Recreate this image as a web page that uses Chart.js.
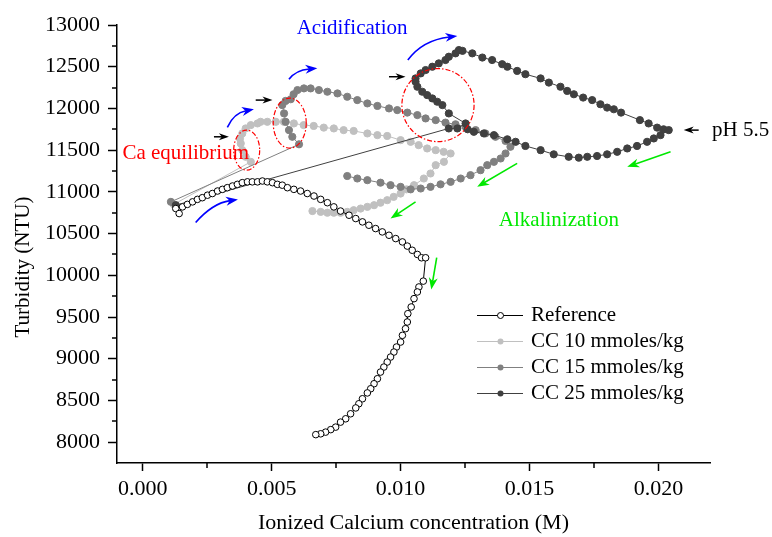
<!DOCTYPE html>
<html><head><meta charset="utf-8">
<script src="https://cdn.jsdelivr.net/npm/chart.js@4/dist/chart.umd.min.js"></script>
<style>html,body{margin:0;padding:0;background:#fff}#wrap{width:772px;height:537px}</style>
</head><body><div id="wrap"><canvas id="c" width="772" height="537"></canvas></div>
<script>
// ---------- data ----------
const seriesNames = ['Reference', 'CC 10 mmoles/kg', 'CC 15 mmoles/kg', 'CC 25 mmoles/kg'];

const refX = [0.00128,0.00141,0.00154,0.00173,0.00193,0.00212,0.00231,0.00251,0.0027,0.0029,0.00309,0.00328,0.00348,0.00367,0.00386,0.00406,0.00425,0.00445,0.00464,0.00483,0.00503,0.00522,0.00541,0.00561,0.00586,0.00612,0.00638,0.00664,0.0069,0.00716,0.00741,0.00767,0.008,0.00826,0.00852,0.00877,0.00903,0.00929,0.00955,0.00981,0.01007,0.01026,0.01045,0.01065,0.01081,0.01097,0.01088,0.01071,0.01065,0.01052,0.01041,0.01028,0.01026,0.01019,0.01007,0.01,0.00984,0.00974,0.00961,0.00948,0.00935,0.00922,0.0091,0.00897,0.00884,0.00871,0.00852,0.00838,0.00826,0.00806,0.00787,0.00767,0.00748,0.00729,0.00709,0.0069,0.00671];
const refY = [10800,10740,10820,10850,10880,10910,10930,10960,10980,11010,11030,11050,11070,11090,11110,11120,11120,11120,11130,11120,11110,11090,11080,11050,11030,11010,10980,10950,10910,10870,10820,10770,10720,10680,10640,10600,10560,10520,10480,10440,10400,10350,10300,10250,10210,10210,9930,9860,9800,9720,9620,9540,9440,9360,9280,9200,9140,9080,9020,8960,8900,8840,8760,8700,8640,8590,8520,8460,8410,8340,8280,8240,8180,8150,8120,8100,8090];

const cc10X = [0.0012,0.00419,0.00399,0.00386,0.0038,0.00377,0.00386,0.00399,0.00419,0.00445,0.00457,0.00483,0.00516,0.00547,0.00586,0.00624,0.00663,0.00702,0.00741,0.00779,0.00818,0.00871,0.0091,0.00948,0.01,0.01039,0.0107,0.01103,0.01136,0.01167,0.01194,0.01168,0.01136,0.01116,0.0109,0.01052,0.01023,0.01,0.00973,0.00948,0.00922,0.00897,0.00871,0.00845,0.00818,0.00793,0.00767,0.00741,0.00716,0.0069,0.00658];
const cc10Y = [10850,11360,11420,11500,11580,11640,11700,11760,11800,11820,11840,11840,11840,11840,11820,11800,11790,11770,11760,11740,11730,11700,11680,11670,11620,11600,11560,11520,11500,11480,11460,11360,11320,11220,11160,11080,11030,10980,10940,10900,10870,10840,10820,10800,10780,10760,10750,10750,10750,10760,10770];

const cc15X = [0.00109,0.00606,0.0058,0.00567,0.00554,0.00548,0.00541,0.00554,0.00574,0.00585,0.006,0.00625,0.00651,0.00683,0.00716,0.00755,0.00793,0.00832,0.00871,0.0091,0.00955,0.00987,0.01026,0.01065,0.01097,0.01136,0.01174,0.01213,0.01252,0.01291,0.01329,0.01368,0.01407,0.01426,0.01407,0.01388,0.01362,0.01336,0.0131,0.01271,0.01233,0.01194,0.01155,0.01116,0.01078,0.01039,0.01,0.00961,0.00922,0.00871,0.00832,0.00793];
const cc15Y = [10880,11570,11660,11740,11840,11940,12040,12090,12110,12170,12220,12240,12240,12220,12200,12180,12140,12100,12060,12030,12000,11980,11950,11920,11880,11860,11830,11810,11780,11740,11700,11660,11610,11540,11460,11400,11360,11320,11260,11200,11160,11120,11090,11060,11040,11030,11060,11080,11110,11140,11160,11190];

const cc25X = [0.00128,0.01187,0.0122,0.01252,0.01187,0.01162,0.01142,0.01123,0.01103,0.01084,0.01065,0.01058,0.01058,0.01078,0.01097,0.01123,0.01148,0.01174,0.01187,0.01213,0.01226,0.0124,0.01278,0.01317,0.01355,0.01394,0.01414,0.01452,0.01484,0.01543,0.01575,0.0162,0.01646,0.01672,0.01708,0.01743,0.01775,0.01801,0.01827,0.01855,0.01928,0.01962,0.01995,0.0202,0.0204,0.02008,0.01982,0.01956,0.01917,0.01879,0.0184,0.01801,0.01762,0.01724,0.01691,0.01652,0.01594,0.01543,0.01484,0.01446,0.01414,0.01362,0.01323,0.01284,0.0126];
const cc25Y = [10840,11760,11760,11820,11940,12040,12080,12120,12160,12200,12260,12320,12360,12420,12460,12500,12540,12580,12620,12660,12700,12690,12660,12610,12580,12530,12500,12450,12410,12360,12310,12260,12210,12170,12130,12100,12050,12010,11990,11950,11860,11820,11770,11750,11740,11680,11640,11600,11550,11520,11480,11450,11430,11420,11410,11420,11450,11500,11550,11600,11630,11680,11700,11720,11750];

const xTicks = [0, 0.005, 0.010, 0.015, 0.020];
const xMinorTicks = [0.0025, 0.0075, 0.0125, 0.0175];
const yTicks = [8000, 8500, 9000, 9500, 10000, 10500, 11000, 11500, 12000, 12500, 13000];
const yMinorTicks = [8250, 8750, 9250, 9750, 10250, 10750, 11250, 11750, 12250, 12750];

// annotation anchors in data units
const annotTexts = [
  {t:'Acidification', x:0.00597, y:12961, c:'#0000ff'},
  {t:'Ca equilibrium', x:-0.00079, y:11461, c:'#ff0000'},
  {t:'Alkalinization', x:0.01381, y:10660, c:'#00e800'},
  {t:'pH 5.5', x:0.02208, y:11740, c:'#000000'}
];
const blackArrows = [
  [0.00276,11660,0.00334,11660],[0.00438,12100,0.00503,12100],
  [0.00955,12380,0.01019,12380],[0.02156,11740,0.02098,11740]
];
const blueArcs = [
  [0.00205,10633,0.00271,10864,0.00369,10909],
  [0.00328,11773,0.00353,11944,0.00431,11989],
  [0.00567,12349,0.00593,12460,0.00677,12481],
  [0.01028,12580,0.01085,12820,0.0122,12868]
];
const greenArrows = [
  [0.02047,11480,0.01879,11300],[0.01452,11341,0.01297,11060],
  [0.01058,10880,0.00961,10681],[0.0114,10213,0.01119,9829]
];
const ellipses = [
  [0.00403,11500,0.000504,240],[0.0057,11824,0.00064,300],[0.01145,12040,0.0014,438]
];

// ---------- chart ----------
const FONT = "'Liberation Serif', 'Times New Roman', Times, serif";
const toPts = (xs, ys) => xs.map((v, i) => ({x: v, y: ys[i]}));
const colors = ['#000000', '#c0c0c0', '#808080', '#404040'];

function head(ctx, tx, ty, ang, len, hw, color, stealth) {
  ctx.save();
  ctx.translate(tx, ty); ctx.rotate(ang);
  ctx.fillStyle = color;
  ctx.beginPath();
  ctx.moveTo(0, 0);
  ctx.lineTo(-len, -hw);
  if (stealth) ctx.lineTo(-len * 0.7, 0);
  ctx.lineTo(-len, hw);
  ctx.closePath();
  ctx.fill();
  ctx.restore();
}

const annot = {
  id: 'annot',
  afterDraw(chart) {
    const {ctx, scales: {x, y}} = chart;
    const px = v => x.getPixelForValue(v), py = v => y.getPixelForValue(v);
    ctx.save();
    // minor ticks
    ctx.strokeStyle = '#000'; ctx.lineWidth = 1.5;
    const b = chart.chartArea.bottom, l = chart.chartArea.left;
    xMinorTicks.forEach(v => { const p = Math.round(px(v)); ctx.beginPath(); ctx.moveTo(p, b); ctx.lineTo(p, b + 5); ctx.stroke(); });
    yMinorTicks.forEach(v => { const p = Math.round(py(v)); ctx.beginPath(); ctx.moveTo(l, p); ctx.lineTo(l - 5, p); ctx.stroke(); });

    // ellipses
    ctx.strokeStyle = '#ff0000'; ctx.lineWidth = 1.2; ctx.setLineDash([5, 2, 1.5, 2]);
    ellipses.forEach(e => {
      const cx = px(e[0]), cy = py(e[1]);
      const rx = Math.abs(px(e[0] + e[2]) - cx), ry = Math.abs(py(e[1] + e[3]) - cy);
      ctx.beginPath(); ctx.ellipse(cx, cy, rx, ry, 0, 0, Math.PI * 2); ctx.stroke();
    });
    ctx.setLineDash([]);

    // black arrows
    ctx.strokeStyle = '#000'; ctx.lineWidth = 1.5;
    blackArrows.forEach(a => {
      const x1 = px(a[0]), y1 = py(a[1]), x2 = px(a[2]), y2 = py(a[3]);
      const ang = Math.atan2(y2 - y1, x2 - x1);
      ctx.beginPath(); ctx.moveTo(x1, y1); ctx.lineTo(x2 - 6 * Math.cos(ang), y2 - 6 * Math.sin(ang)); ctx.stroke();
      head(ctx, x2, y2, ang, 10, 3.5, '#000', true);
    });

    // blue arcs
    ctx.strokeStyle = '#0000ff'; ctx.lineWidth = 1.6;
    blueArcs.forEach(a => {
      const x0 = px(a[0]), y0 = py(a[1]), cx = px(a[2]), cy = py(a[3]), x2 = px(a[4]), y2 = py(a[5]);
      const ang = Math.atan2(y2 - cy, x2 - cx);
      ctx.beginPath(); ctx.moveTo(x0, y0); ctx.quadraticCurveTo(cx, cy, x2 - 8 * Math.cos(ang), y2 - 8 * Math.sin(ang)); ctx.stroke();
      head(ctx, x2, y2, ang, 12, 4.5, '#0000ff', true);
    });

    // green arrows
    ctx.strokeStyle = '#00e800'; ctx.lineWidth = 1.6;
    greenArrows.forEach(a => {
      const x1 = px(a[0]), y1 = py(a[1]), x2 = px(a[2]), y2 = py(a[3]);
      const ang = Math.atan2(y2 - y1, x2 - x1);
      ctx.beginPath(); ctx.moveTo(x1, y1); ctx.lineTo(x2 - 8 * Math.cos(ang), y2 - 8 * Math.sin(ang)); ctx.stroke();
      head(ctx, x2, y2, ang, 12, 4.5, '#00e800', true);
    });

    // texts
    ctx.font = '21px ' + FONT; ctx.textBaseline = 'middle'; ctx.textAlign = 'left';
    annotTexts.forEach(t => { ctx.fillStyle = t.c; ctx.fillText(t.t, px(t.x), py(t.y)); });

    // y axis title
    ctx.save();
    ctx.translate(23, 267); ctx.rotate(-Math.PI / 2);
    ctx.font = '21px ' + FONT; ctx.fillStyle = '#000'; ctx.textAlign = 'center';
    ctx.fillText('Turbidity (NTU)', 0, 0);
    ctx.restore();

    // legend
    const lx0 = 477, lx1 = 523, lm = 500.5, tx = 531, ly0 = 315.5, step = 26;
    chart.data.datasets.forEach((ds, i) => {
      const yy = ly0 + i * step;
      ctx.strokeStyle = ds.borderColor; ctx.lineWidth = 1;
      ctx.beginPath(); ctx.moveTo(lx0, yy); ctx.lineTo(lx1, yy); ctx.stroke();
      ctx.beginPath(); ctx.arc(lm, yy, 3, 0, Math.PI * 2);
      ctx.fillStyle = ds.pointBackgroundColor; ctx.fill();
      if (i === 0) { ctx.strokeStyle = '#000'; ctx.stroke(); }
      ctx.fillStyle = '#000'; ctx.font = '21px ' + FONT;
      ctx.fillText(ds.label, tx, yy);
    });
    ctx.restore();
  }
};

const mk = (i, pts, fill, border, r, ord) => ({
  label: seriesNames[i], data: pts, showLine: true,
  borderColor: colors[i], borderWidth: 1,
  pointBackgroundColor: fill, pointBorderColor: border, pointBorderWidth: 1,
  pointRadius: r, order: ord
});

new Chart(document.getElementById('c'), {
  type: 'scatter',
  data: {datasets: [
    mk(0, toPts(refX, refY), '#ffffff', '#000000', 3.3, 0),
    mk(1, toPts(cc10X, cc10Y), colors[1], colors[1], 3.6, 3),
    mk(2, toPts(cc15X, cc15Y), colors[2], colors[2], 3.6, 2),
    mk(3, toPts(cc25X, cc25Y), colors[3], colors[3], 3.6, 1)
  ]},
  options: {
    responsive: false, animation: false, devicePixelRatio: 1,
    layout: {padding: {left: 0, top: 25, right: 62, bottom: 0}},
    plugins: {legend: {display: false}, tooltip: {enabled: false}},
    scales: {
      x: {
        type: 'linear', min: -0.001, max: 0.022,
        afterBuildTicks: s => { s.ticks = xTicks.map(v => ({value: v})); },
        afterFit: s => { s.height = 74; },
        grid: {display: true, drawOnChartArea: false, drawTicks: true, tickLength: 8, color: '#000', tickWidth: 1.5},
        border: {display: true, color: '#000', width: 1.5},
        ticks: {color: '#000', font: {family: FONT, size: 22}, padding: 5, maxRotation: 0, autoSkip: false,
                callback: v => Number(v).toFixed(3)},
        title: {display: true, text: 'Ionized Calcium concentration (M)', color: '#000',
                font: {family: FONT, size: 22, lineHeight: 1.2}, padding: {top: 0, bottom: 1}}
      },
      y: {
        type: 'linear', min: 7750, max: 13000,
        afterBuildTicks: s => { s.ticks = yTicks.map(v => ({value: v})); },
        afterFit: s => { s.width = 117; },
        grid: {display: true, drawOnChartArea: false, drawTicks: true, tickLength: 9, color: '#000', tickWidth: 1.5},
        border: {display: true, color: '#000', width: 1.5},
        ticks: {color: '#000', font: {family: FONT, size: 22}, padding: 8, autoSkip: false,
                callback: v => String(v)}
      }
    }
  },
  plugins: [annot]
});
</script></body></html>
